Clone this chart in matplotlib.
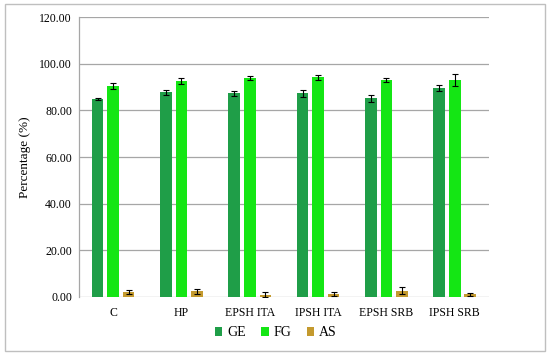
import matplotlib.pyplot as plt
from matplotlib.patches import Rectangle
import numpy as np

plt.rcParams.update({
    "font.family": ["Liberation Serif", "DejaVu Serif"],
})

# ── data ──
categories = ["C", "HP", "EPSH ITA", "IPSH ITA", "EPSH SRB", "IPSH SRB"]
ge = [84.9, 87.7, 87.3, 87.3, 85.1, 89.7]
ge_err = [0.4, 1.2, 1.0, 1.4, 1.6, 1.3]
fg = [90.6, 92.7, 94.0, 94.1, 93.0, 93.0]
fg_err = [1.3, 1.2, 0.9, 0.9, 0.9, 2.6]
as_ = [2.3, 2.4, 1.0, 1.4, 2.6, 1.2]
as_err = [0.9, 1.0, 1.1, 0.8, 1.5, 0.7]

series = [("GE", ge, ge_err, "#1f9e48"),
          ("FG", fg, fg_err, "#14e614"),
          ("AS", as_, as_err, "#c49a2e")]

fig = plt.figure(figsize=(5.5, 3.55), dpi=100)
ax = fig.add_axes([0.1436, 0.1634, 0.889 - 0.1436, 0.952 - 0.1634])

# outer frame
fig.patches.append(Rectangle((5 / 550, 4 / 355), 540 / 550, 347 / 355,
                             transform=fig.transFigure, fill=False,
                             edgecolor="#bfbfbf", linewidth=1.0))

x = np.arange(len(categories))
width = 0.17
offsets = [-0.227, 0.0, 0.227]
for (name, vals, errs, color), off in zip(series, offsets):
    ax.bar(x + off, vals, width, color=color, label=name, zorder=3,
           yerr=errs, error_kw=dict(ecolor="black", elinewidth=0.8,
                                    capsize=2.5, capthick=0.8))

ax.set_xlim(-0.5, len(categories) - 0.5)
ax.set_ylim(0, 120)
ax.set_yticks(np.arange(0, 121, 20))
ax.set_yticklabels([f"{v:.2f}" for v in np.arange(0, 121, 20)], fontsize=8.5)
ax.set_xticks(x)
ax.set_xticklabels(categories, fontsize=8.5)
ax.tick_params(axis="x", length=0, pad=7)
ax.tick_params(axis="y", length=0, pad=5)
ax.set_ylabel("Percentage (%)", fontsize=9.5, labelpad=6)

ax.grid(axis="y", color="#a6a6a6", linewidth=0.9, zorder=0)
ax.set_axisbelow(True)
for s in ["top", "right", "bottom"]:
    ax.spines[s].set_visible(False)
ax.spines["left"].set_color("#a6a6a6")
ax.spines["left"].set_linewidth(0.9)

ax.legend(loc="upper center", bbox_to_anchor=(0.48, -0.06), ncol=3,
          frameon=False, fontsize=10, handlelength=0.55, handleheight=0.55,
          handletextpad=0.35, columnspacing=1.1)

fig.savefig("out.png", dpi=100)
